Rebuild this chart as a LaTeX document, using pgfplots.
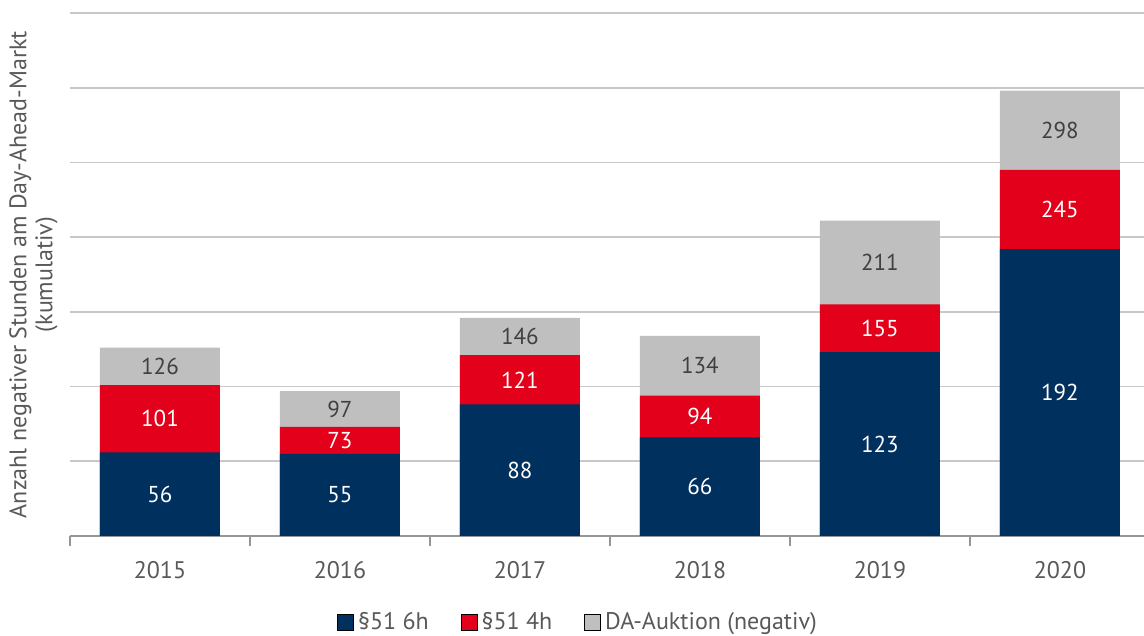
\documentclass[border=0pt]{standalone}
\usepackage{fontspec}
\setmainfont{PT Sans}
\usepackage{pgfplots}
\pgfplotsset{compat=1.18}
\usepackage{pgfplotstable}
\definecolor{navy}{RGB}{0,48,94}
\definecolor{dred}{RGB}{226,0,26}
\definecolor{lgray}{RGB}{191,191,191}
\definecolor{txt}{RGB}{89,89,89}
\definecolor{dtxt}{RGB}{64,64,64}
\definecolor{gridc}{RGB}{200,200,200}
\definecolor{axc}{RGB}{150,150,150}

\pgfplotstableread{
x b r g
0 56 101 126
1 55 73 97
2 88 121 146
3 66 94 134
4 123 155 211
5 192 245 298
}\data

\pgfplotsset{lbl/.style={draw=none, mark=none, forget plot, point meta=explicit,
  nodes near coords={\pgfmathprintnumber[assume math mode=true]{\pgfplotspointmeta}},
  every node near coord/.append style={anchor=center, text=#1, font=\fontsize{11.5}{13}\selectfont}}}

\begin{document}
\begin{tikzpicture}
\begin{axis}[
  at={(35pt,50pt)}, anchor=south west,
  scale only axis, width=537pt, height=261.5pt,
  xmin=-0.5, xmax=5.467, ymin=0, ymax=350,
  enlargelimits=false, clip=false,
  axis x line*=bottom, axis y line*=left,
  y axis line style={draw=none},
  x axis line style={draw=axc, line width=0.8pt},
  ytick={0,50,...,350}, yticklabels={}, ytick style={draw=none},
  ymajorgrids, grid style={draw=gridc, line width=0.8pt},
  xtick={0,...,5}, xticklabels={2015,2016,2017,2018,2019,2020},
  xtick style={draw=none},
  extra x ticks={-0.5,0.5,1.5,2.5,3.5,4.5},
  extra x tick labels={},
  extra x tick style={major tick length=5pt, tick align=outside, xtick style={draw=axc, line width=0.8pt}},
  xticklabel style={font=\fontsize{12}{14}\selectfont, text=txt, yshift=-9pt},
  ylabel={Anzahl negativer Stunden am Day-Ahead-Markt\\(kumulativ)},
  ylabel style={at={(axis description cs:-0.034,0.5)}, anchor=center, align=center, font=\fontsize{12}{13}\selectfont, text=txt},
  legend style={at={(axis description cs:0.474,-0.166)}, anchor=center, draw=none, fill=none, legend columns=3,
    /tikz/every even column/.append style={column sep=14pt}, font=\fontsize{12}{14}\selectfont, text=txt},
  legend image code/.code={\fill[#1] (0pt,-4pt) rectangle (8pt,4pt);},
]
\addlegendimage{fill=navy}
\addlegendentry{§51 6h}
\addlegendimage{fill=dred}
\addlegendentry{§51 4h}
\addlegendimage{fill=lgray}
\addlegendentry{DA-Auktion (negativ)}

\addplot[ybar, bar width=60pt, bar shift=0pt, fill=lgray, draw=none, forget plot] table[x=x, y=g]{\data};
\addplot[ybar, bar width=60pt, bar shift=0pt, fill=dred, draw=none, forget plot] table[x=x, y=r]{\data};
\addplot[ybar, bar width=60pt, bar shift=0pt, fill=navy, draw=none, forget plot] table[x=x, y=b]{\data};

\addplot[lbl=white] table[x=x, y expr={\thisrow{b}/2}, meta=b]{\data};
\addplot[lbl=white] table[x=x, y expr={(\thisrow{b}+\thisrow{r})/2}, meta=r]{\data};
\addplot[lbl=dtxt] table[x=x, y expr={(\thisrow{r}+\thisrow{g})/2}, meta=g]{\data};
\end{axis}
\pgfresetboundingbox
\path[use as bounding box] (0,0) rectangle (572pt,318pt);
\end{tikzpicture}
\end{document}
